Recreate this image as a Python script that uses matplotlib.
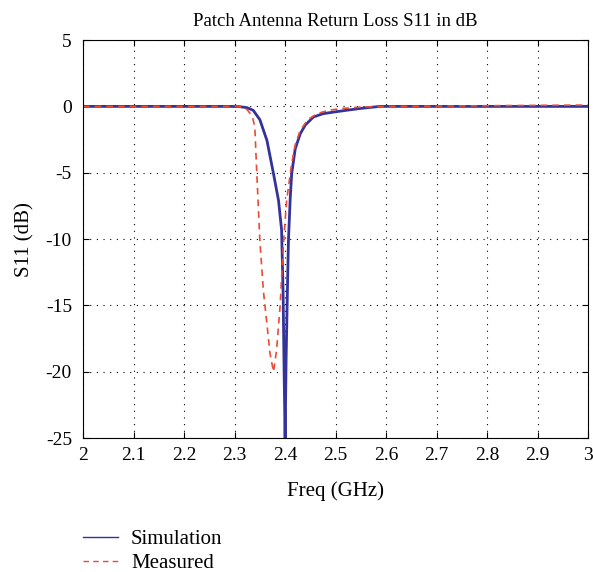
import numpy as np
import matplotlib
matplotlib.use("Agg")
import matplotlib.pyplot as plt
from matplotlib.lines import Line2D

# simulated S11 (GHz, dB)
sim_f = [2.0, 2.1, 2.2, 2.29, 2.31, 2.325, 2.337, 2.35, 2.364, 2.377, 2.387,
         2.393, 2.396, 2.398, 2.4, 2.402, 2.405, 2.4066, 2.41, 2.413, 2.42,
         2.43, 2.44, 2.456, 2.475, 2.496, 2.52, 2.55, 2.588, 2.7, 2.8, 2.9, 3.0]
sim_db = [0.0, 0.0, 0.0, 0.0, -0.02, -0.1, -0.3, -1.0, -2.56, -5.07, -7.1,
          -9.3, -14.0, -20.0, -25.0, -19.0, -13.0, -10.1, -7.0, -5.07, -3.2,
          -2.06, -1.4, -0.8, -0.55, -0.43, -0.3, -0.15, 0.0, 0.0, 0.0, 0.0, 0.0]

# measured S11 (GHz, dB)
meas_f = [2.0, 2.1, 2.2, 2.3, 2.315, 2.325, 2.331, 2.336, 2.34, 2.344, 2.35,
          2.357, 2.364, 2.37, 2.377, 2.383, 2.39, 2.397, 2.403, 2.413, 2.42,
          2.43, 2.445, 2.463, 2.485, 2.509, 2.55, 2.6, 2.7, 2.8, 2.9, 3.0]
meas_db = [0.0, 0.0, 0.0, 0.0, -0.05, -0.25, -0.55, -0.9, -1.55, -5.07, -10.1,
           -13.9, -16.4, -18.6, -20.0, -18.4, -15.1, -10.1, -7.1, -4.3, -2.9,
           -1.8, -1.0, -0.55, -0.3, -0.17, -0.05, 0.0, 0.02, 0.05, 0.08, 0.1]

xticks = np.round(np.arange(2.0, 3.01, 0.1), 1)
xlabels = ["2", "2.1", "2.2", "2.3", "2.4", "2.5", "2.6", "2.7", "2.8", "2.9", "3"]
yticks = [5, 0, -5, -10, -15, -20, -25]

sim_col = '#33339a'
meas_col = '#ec4a35'

plt.rcParams['font.family'] = ['Liberation Serif', 'DejaVu Serif']

fig = plt.figure(figsize=(5.93, 5.72), dpi=100)
ax = fig.add_axes([0.14, 0.234, 0.852, 0.696])

ax.plot(sim_f, sim_db, color=sim_col, lw=2.0)
ax.plot(meas_f, meas_db, color=meas_col, lw=1.2, ls=(0, (4, 3)))

ax.set_xlim(2, 3)
ax.set_ylim(-25, 5)
ax.set_xticks(xticks)
ax.set_xticklabels(xlabels)
ax.set_yticks(yticks)
ax.set_yticklabels([str(v) for v in yticks])
ax.tick_params(direction='in', top=True, right=True, length=4, width=0.8,
               labelsize=14)
ax.tick_params(axis='y', pad=8)
ax.tick_params(axis='x', pad=6.5)
ax.grid(True, color='black', ls=(0, (1, 5)), lw=0.8)
for s in ax.spines.values():
    s.set_linewidth(0.8)

ax.set_title('Patch Antenna Return Loss S11 in dB', fontsize=13.5, pad=10)
ax.set_xlabel('Freq (GHz)', fontsize=15, labelpad=12)
ax.set_ylabel('S11 (dB)', fontsize=15, labelpad=8)

# legend uses thin lines
h1 = Line2D([], [], color=sim_col, lw=1.0)
h2 = Line2D([], [], color=meas_col, lw=1.0, ls=(0, (4, 3)))
fig.legend(handles=[h1, h2], labels=['Simulation', 'Measured'],
           loc='upper left', bbox_to_anchor=(0.14, 0.074), fontsize=15,
           frameon=False, handlelength=1.7, handletextpad=0.6,
           labelspacing=0.2, borderaxespad=0, borderpad=0)

fig.savefig('out.png', dpi=100)
